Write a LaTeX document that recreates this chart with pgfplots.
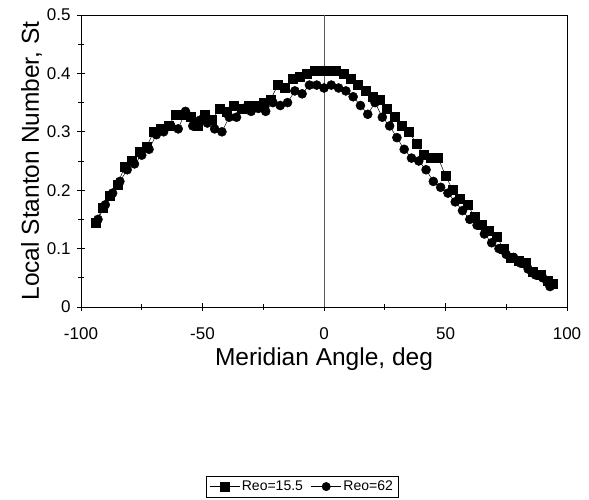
\documentclass[border=0pt]{standalone}
\usepackage{pgfplots}
\pgfplotsset{compat=1.18}
\usepackage{fontspec}
\setmainfont{Liberation Sans}
\begin{document}
\begin{tikzpicture}[x=1pt,y=1pt]
\path[use as bounding box] (0,0) rectangle (589,500);
\begin{axis}[
  at={(81pt,193pt)}, anchor=south west,
  width=486pt, height=292pt, scale only axis,
  xmin=-100, xmax=100, ymin=0, ymax=0.5,
  xtick={-100,-50,0,50,100}, xticklabels={-100,-50,0,50,100},
  minor xtick={-75,-25,25,75},
  ytick={0,0.1,0.2,0.3,0.4,0.5}, yticklabels={0,0.1,0.2,0.3,0.4,0.5},
  minor ytick={0.05,0.15,0.25,0.35,0.45},
  tick align=center, xtick pos=bottom, ytick pos=left,
  major tick length=8pt, minor tick length=6pt,
  tick style={black, line width=0.6pt},
  axis line style={line width=0.6pt},
  ticklabel style={font=\fontsize{17}{19}\selectfont},
  xticklabel style={yshift=-13pt},
  yticklabel style={xshift=-3pt},
  xlabel={Meridian Angle, deg}, ylabel={Local Stanton Number, St},
  label style={font=\fontsize{24.5}{26}\selectfont},
  xlabel style={yshift=-1pt}, ylabel style={yshift=-2pt},
  legend style={at={(0.455,-0.615)}, anchor=center, draw=black, line width=0.5pt,
    font=\fontsize{14}{16}\selectfont, legend columns=2, inner xsep=3pt, inner ysep=3pt,
    /tikz/every even column/.append style={column sep=6pt}},
  legend image code/.code={\draw[mark repeat=2,mark phase=2,mark size=4.2pt] plot coordinates {(0pt,0pt) (15pt,0pt) (30pt,0pt)};},
  legend cell align=left,
  clip=false,
]
\draw[gray!70!black, line width=0.8pt] (axis cs:0,0) -- (axis cs:0,0.5);
\addplot[black, line width=0.5pt, mark=square*, mark size=4.5pt, mark options={solid, fill=black}] coordinates {
(-94,0.145) (-91,0.17) (-88,0.19) (-85,0.21) (-82,0.24) (-79,0.25) (-76,0.265) (-73,0.275)
(-70,0.30) (-67,0.305) (-64,0.31) (-61,0.33) (-58,0.33) (-55,0.325) (-52,0.31) (-49,0.33)
(-46,0.32) (-43,0.34) (-40,0.335) (-37,0.345) (-34,0.34) (-31,0.345) (-28,0.345) (-25,0.35)
(-22,0.355) (-19,0.38) (-16,0.375) (-13,0.39) (-10,0.395) (-7,0.40) (-4,0.405) (-1,0.405)
(2,0.405) (5,0.405) (8,0.40) (11,0.39) (14,0.38) (17,0.37) (20,0.36) (23,0.355)
(26,0.34) (29,0.325) (32,0.31) (35,0.30) (38,0.28) (41,0.26) (44,0.255) (47,0.255)
(50,0.225) (53,0.20) (56,0.185) (59,0.175) (62,0.155) (65,0.14) (68,0.13) (71,0.12)
(74,0.10) (77,0.085) (80,0.08) (83,0.075) (86,0.06) (89,0.055) (92,0.045) (94,0.04)
};
\addlegendentry{Reo=15.5}
\addplot[black, line width=0.5pt, mark=*, mark size=4.5pt, mark options={solid, fill=black}] coordinates {
(-93,0.15) (-90,0.175) (-87,0.195) (-84,0.215) (-81,0.235) (-78,0.245) (-75,0.26) (-72,0.27)
(-69,0.295) (-66,0.30) (-63,0.31) (-60,0.305) (-57,0.335) (-54,0.31) (-51,0.32) (-48,0.315)
(-45,0.305) (-42,0.30) (-39,0.325) (-36,0.325) (-33,0.34) (-30,0.335) (-27,0.34) (-24,0.335)
(-21,0.35) (-18,0.345) (-15,0.35) (-12,0.37) (-9,0.365) (-6,0.38) (-3,0.38) (0,0.375)
(3,0.38) (6,0.375) (9,0.37) (12,0.36) (15,0.345) (18,0.33) (21,0.35) (24,0.325)
(27,0.31) (30,0.29) (33,0.27) (36,0.255) (39,0.25) (42,0.235) (45,0.215) (48,0.205)
(51,0.195) (54,0.18) (57,0.165) (60,0.15) (63,0.14) (66,0.125) (69,0.11) (72,0.10)
(75,0.09) (78,0.085) (81,0.075) (84,0.065) (87,0.055) (90,0.05) (93,0.035)
};
\addlegendentry{Reo=62}
\end{axis}
\end{tikzpicture}
\end{document}
